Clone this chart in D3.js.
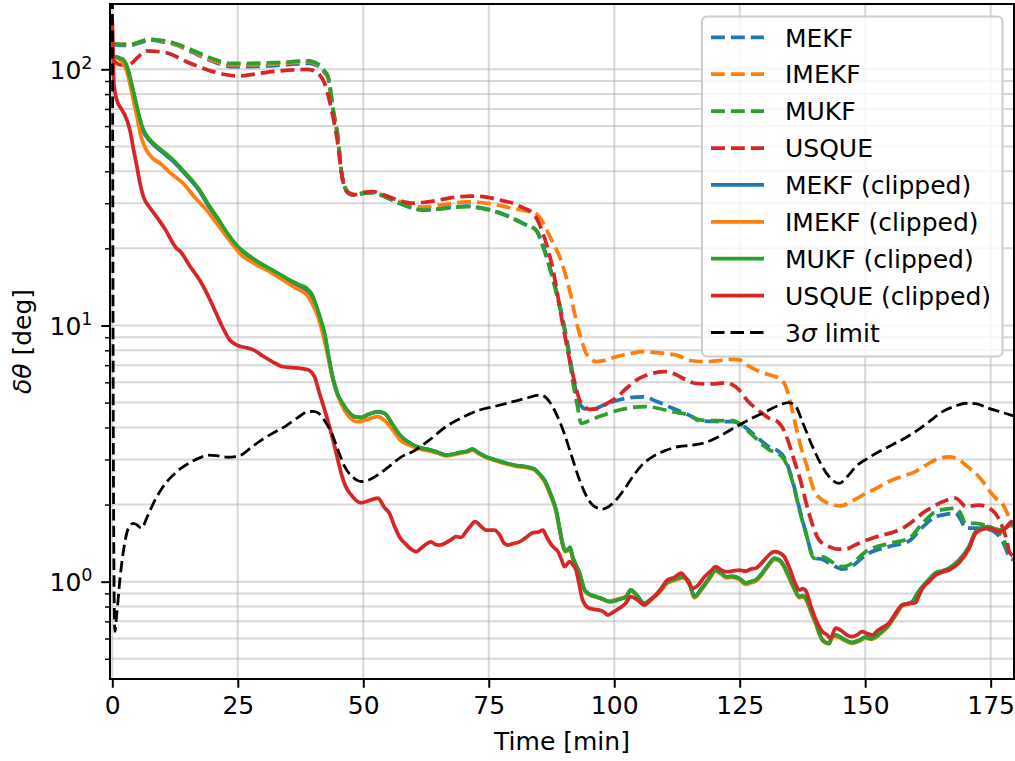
<!DOCTYPE html>
<html>
<head>
<meta charset="utf-8">
<script src="https://cdn.jsdelivr.net/npm/d3@7"></script>
<style>
  body { margin: 0; background: #fff; }
  svg { display: block; }
  text { font-family: "DejaVu Sans", sans-serif; fill: #000; }
</style>
</head>
<body>
<svg id="chart" width="1015" height="761"></svg>
<script>
// ---- axis ticks ----
const timeTicks = [0, 25, 50, 75, 100, 125, 150, 175];
const errMajor = [1, 10, 100];
const errMajorExp = ["0", "1", "2"];
const errMinor = [0.5, 0.6, 0.7, 0.8, 0.9, 2, 3, 4, 5, 6, 7, 8, 9, 20, 30, 40, 50, 60, 70, 80, 90];

// ---- attitude error, unclipped filters [time min, error deg] ----
const mekf = [[0,125],[0.2,125],[1.5,124],[3.5,124],[5.5,127],[7.5,130],[10,128],[12.1,125.5],[15,119],[17.4,113],[20,107.5],[23.4,102.5],[27.4,102.5],[31,103],[34,104],[37,105],[39.3,105.5],[40.5,104],[41.3,102],[42.2,97.5],[43,92.5],[44,69],[45,53],[45.6,40.4],[46.6,33.8],[47.5,32.5],[48.3,32.2],[50,32.8],[51.9,33],[54,32],[57.2,30],[61.9,28.3],[66,28.7],[70.5,29.2],[74.5,28.5],[77.5,27.4],[80.4,25.9],[82.5,24.7],[84.4,23.6],[85.8,20.5],[87.8,15.3],[89.4,11.4],[90.7,8.5],[91.7,6.5],[92.5,5.4],[93.1,4.95],[94.3,4.72],[95.7,4.7],[97.5,4.85],[99.7,5.04],[102.5,5.2],[105.6,5.27],[108.5,5.05],[111.6,4.75],[114.9,4.47],[117,4.25],[120,4.22],[123.6,4.21],[124.9,4.15],[126.5,3.95],[128.2,3.7],[130.9,3.35],[132.5,3.25],[133.9,3.05],[135.6,2.45],[136.9,1.93],[138.2,1.55],[139.8,1.24],[141.5,1.22],[143.5,1.16],[145.4,1.12],[147.4,1.15],[150.1,1.27],[154.7,1.37],[158.7,1.44],[161.4,1.63],[164,1.79],[166,1.83],[168,1.85],[169,1.75],[170,1.62],[172,1.62],[174.6,1.6],[177.3,1.45],[179,1.23],[179.7,1.22]];

const imekf = [[0,126],[0.2,126],[1.5,125],[3.5,125],[5.5,128],[7.5,131],[10,129],[12.1,126],[15,120],[17.4,114],[20,108.5],[23.4,104],[27.4,104],[31,104.5],[34,105.5],[37,106.5],[39.3,107],[40.5,105],[41.3,103],[42.2,98.5],[43,93],[44,69.4],[45,53],[45.6,40.4],[46.6,33.8],[47.5,32.7],[48.3,32.5],[50,33],[51.9,33.2],[54,32.3],[57.2,30.5],[61.9,29],[66,29.6],[70.5,30.4],[74.5,30],[77.5,29.3],[80.4,28.5],[82.5,28],[84.4,27.3],[85.5,25.8],[86.4,23.9],[87.8,21],[89.1,18.6],[91.1,13.76],[92.7,9.9],[93.6,8.6],[94.4,7.79],[95.4,7.4],[96.4,7.22],[98,7.3],[100.3,7.54],[103,7.75],[105.6,7.9],[108,7.85],[110.3,7.76],[113,7.6],[115,7.3],[118.3,7.22],[121,7.3],[123.6,7.39],[124.9,7.34],[126.5,7.0],[128.2,6.71],[130.5,6.45],[132.8,6.22],[134.2,5.77],[135,5.1],[136.2,4.03],[137.2,3.35],[138.2,2.9],[139.8,2.28],[141.5,2.08],[143.5,2.0],[145.1,1.975],[147.5,2.07],[150.1,2.21],[152.5,2.33],[154.7,2.46],[157.5,2.58],[160,2.69],[162,2.84],[164,2.99],[166.7,3.07],[168.7,2.99],[170.5,2.8],[172,2.65],[173.5,2.45],[174.6,2.28],[176,2.12],[177.3,2.02],[178.3,1.85],[179,1.69],[179.7,1.62]];

const mukf = [[0,126],[0.2,126],[1.5,125],[3.5,125],[5.5,128],[7.5,131],[10,129.5],[12.1,127],[15,121],[17.4,115.5],[20,110],[23.4,105.5],[27.4,105.5],[31,106],[34,106.5],[37,107.5],[39.3,107.8],[40.5,106],[41.3,104],[42.2,99],[43,93.5],[44,69.4],[45,53],[45.6,40.4],[46.6,33.8],[47.5,32.6],[48.3,32.3],[50,32.8],[51.9,33],[54,32],[57.2,30],[61.9,28.2],[66,28.6],[70.5,29.1],[74.5,28.4],[77.5,27.3],[80.4,25.8],[82.5,24.6],[84.4,23.6],[85.8,20.3],[87.8,15.05],[89.4,11.16],[90.7,8.27],[91.7,6.13],[92.7,4.82],[93.4,4.15],[95,4.25],[97,4.41],[101,4.68],[106.3,4.82],[111.6,4.61],[114.9,4.47],[117,4.28],[120,4.25],[123.6,4.25],[124.9,4.15],[126.5,3.9],[128.2,3.63],[130.9,3.27],[132.5,3.17],[133.9,2.99],[135.6,2.42],[136.9,1.905],[138.2,1.545],[139.8,1.234],[141.5,1.25],[143.5,1.19],[145.4,1.144],[147.4,1.18],[150.1,1.31],[154.7,1.41],[158.7,1.477],[161.4,1.69],[164,1.876],[166,1.92],[168,1.934],[169,1.85],[170,1.69],[172,1.69],[174.6,1.64],[177.3,1.5],[179,1.25],[179.7,1.22]];

const usque = [[0,108],[0.5,107],[1.5,104],[3.2,104],[5,111],[6.8,118],[8.5,117.5],[10.8,116],[12.8,112],[14.8,107],[17.5,102],[20.1,97.9],[23,95],[25.4,94.2],[28,95.5],[31,97.5],[34,98.7],[36.5,99.5],[38.7,100],[40,99],[41,96.5],[42.3,88.2],[43.3,75],[44.2,62],[45,50],[45.6,40],[46.6,33.5],[47.5,32.5],[48.3,32.4],[50,33],[51.9,33.3],[54,32.4],[57,30.8],[59.9,30],[62.5,30.3],[65.2,30.9],[68,31.6],[71.2,32],[74.5,31.7],[77.1,30.9],[79.8,30],[82,28.7],[83.8,27.4],[84.8,25.6],[85.8,22.9],[87.8,16.5],[89.7,10.2],[91.4,6.9],[92.4,5.7],[93.1,5.12],[94,4.85],[95,4.71],[97,4.75],[98.5,4.95],[100.3,5.2],[102.5,5.7],[105,6.22],[107.5,6.5],[110.3,6.6],[112.5,6.4],[114.3,6.13],[116,5.95],[118.3,5.91],[120.5,5.93],[122.3,5.98],[123.6,5.86],[124.9,5.6],[126.5,5.1],[128.2,4.75],[129.5,4.54],[130.9,4.34],[132.5,4.22],[133.5,4.0],[134.8,3.47],[135.8,3.0],[136.9,2.57],[138.8,1.85],[140.8,1.455],[142.8,1.37],[144.5,1.34],[146.1,1.34],[148,1.39],[149.4,1.43],[151.5,1.48],[153.4,1.52],[156,1.57],[158,1.64],[159.8,1.74],[161.4,1.85],[163.5,1.96],[165.4,2.05],[168,2.12],[169,2.05],[170,1.96],[172.6,1.99],[175.3,1.9],[176.5,1.78],[177.3,1.64],[178.2,1.45],[178.7,1.31],[179.7,1.25]];

// ---- attitude error, clipped filters ----
const mekfClipped = [[0,112],[0.5,112],[1.5,110.5],[2.2,108.5],[2.9,102],[3.5,92.5],[4.2,81],[4.9,70.5],[5.5,63],[6.2,57.2],[7.2,53.3],[8.2,50.8],[10,47.4],[12.1,43.8],[14.5,39],[17.4,33.4],[19,29.6],[20.8,26.3],[23,22.5],[25.4,19.8],[26.1,19.3],[28.5,17.8],[30.7,16.8],[33,15.8],[35.3,14.85],[37,14.3],[38.7,13.75],[39.8,13.0],[40.7,11.65],[41.5,10.45],[42.3,9.2],[43.1,7.5],[43.9,6.25],[44.9,5.35],[45.9,4.93],[47,4.6],[48.3,4.4],[49.6,4.37],[51,4.49],[52.9,4.6],[54.3,4.53],[55.9,4.08],[57.5,3.69],[59.4,3.46],[61,3.35],[63.2,3.27],[64.8,3.2],[66.5,3.12],[68,3.15],[69.2,3.19],[70.5,3.22],[71.8,3.29],[73,3.18],[74.5,3.07],[76.5,2.98],[78.5,2.9],[80.5,2.84],[82.4,2.81],[84.1,2.75],[85.2,2.62],[86.1,2.49],[87.3,2.2],[88.4,1.905],[89.1,1.62],[89.7,1.41],[90.2,1.32],[90.7,1.33],[91.2,1.36],[91.7,1.25],[92.4,1.16],[93.1,1.08],[94.1,0.928],[95.2,0.89],[96.4,0.874],[97.7,0.855],[99,0.835],[101,0.854],[102.3,0.87],[103.3,0.928],[104.2,0.9],[106,0.823],[107.2,0.85],[108.3,0.887],[109.5,0.94],[110.3,0.986],[111.6,1.015],[112.5,1.03],[113.6,1.045],[114.9,1.0],[116,0.874],[117.2,0.93],[118.9,1.03],[120.2,1.11],[121.3,1.08],[122.3,1.045],[123.5,1.05],[124.9,1.03],[126.2,0.986],[127.2,1.0],[128.2,1.015],[129.5,1.08],[130.8,1.17],[131.9,1.234],[132.8,1.22],[133.5,1.18],[134.5,1.08],[135.8,0.95],[136.9,0.874],[137.6,0.88],[138.2,0.86],[139.2,0.77],[140.2,0.688],[141.5,0.592],[142.8,0.575],[143.4,0.61],[144.1,0.619],[145.5,0.6],[147.4,0.578],[148.8,0.59],[150.1,0.607],[151.2,0.6],[152.1,0.61],[153.4,0.64],[154.7,0.678],[156,0.74],[157.4,0.811],[158.4,0.82],[159.4,0.835],[160.4,0.9],[161.4,0.956],[162.7,1.02],[164,1.08],[165.3,1.1],[166.7,1.128],[168.7,1.215],[170.7,1.37],[172,1.567],[173.3,1.62],[174.6,1.64],[176,1.6],[177.3,1.59],[178.3,1.64],[179.7,1.69]];

const imekfClipped = [[0,111],[0.5,111],[1.5,109],[2.2,105],[2.9,98],[3.5,88],[4.2,76],[4.9,65.3],[5.8,54],[6.8,48.4],[8,45],[9.5,43],[11.5,39.5],[14.1,35.9],[16.5,31.5],[18.8,28.2],[21.5,24],[24.1,20.6],[25.4,19.1],[28,17.6],[30.7,16.5],[33.5,15.3],[36,14.2],[37.5,13.7],[38.7,13.2],[39.8,12.2],[41,10.8],[41.8,9.5],[42.7,8.03],[43.6,6.6],[44.6,5.6],[45.6,4.95],[47,4.45],[48.9,4.21],[50.5,4.28],[52.9,4.41],[54.3,4.25],[55.9,3.9],[57.5,3.55],[59.4,3.4],[61,3.3],[63.2,3.24],[64.8,3.17],[66.5,3.1],[68,3.13],[69.2,3.17],[70.5,3.2],[71.8,3.26],[73,3.16],[74.5,3.05],[76.5,2.96],[78.5,2.88],[80.5,2.82],[82.4,2.79],[84.1,2.73],[85.2,2.6],[86.1,2.46],[87.3,2.17],[88.4,1.88],[89.1,1.6],[89.7,1.4],[90.2,1.31],[90.7,1.32],[91.2,1.34],[91.7,1.24],[92.4,1.15],[93.1,1.07],[94.1,0.925],[95.2,0.885],[96.4,0.87],[97.7,0.855],[99,0.84],[101,0.858],[102.3,0.875],[103.3,0.92],[104.2,0.895],[106,0.818],[107.2,0.845],[108.3,0.88],[109.5,0.93],[110.3,0.975],[111.6,1.005],[112.5,1.02],[113.6,1.035],[114.9,0.99],[116,0.865],[117.2,0.92],[118.9,1.02],[120.2,1.1],[121.3,1.07],[122.3,1.035],[123.5,1.04],[124.9,1.02],[126.2,0.975],[127.2,0.99],[128.2,1.005],[129.5,1.07],[130.8,1.16],[131.9,1.22],[132.8,1.21],[133.5,1.17],[134.5,1.07],[135.8,0.94],[136.9,0.865],[137.6,0.87],[138.2,0.85],[139.2,0.76],[140.2,0.68],[141.5,0.588],[142.8,0.572],[143.4,0.605],[144.1,0.612],[145.5,0.595],[147.4,0.575],[148.8,0.586],[150.1,0.602],[151.2,0.596],[152.1,0.605],[153.4,0.635],[154.7,0.672],[156,0.735],[157.4,0.805],[158.4,0.815],[159.4,0.83],[160.4,0.893],[161.4,0.95],[162.7,1.015],[164,1.07],[165.3,1.09],[166.7,1.12],[168.7,1.205],[170.7,1.36],[172,1.555],[173.3,1.61],[174.6,1.635],[176,1.6],[177.3,1.59],[178.3,1.64],[179.7,1.69]];

const mukfClipped = [[0,112],[0.5,112],[1.5,110.5],[2.2,109],[2.9,103],[3.5,93.5],[4.2,82],[4.9,71.5],[5.5,64],[6.2,58],[7.2,54],[8.2,51.4],[10,48],[12.1,44.3],[14.5,39.5],[17.4,33.8],[19,30],[20.8,26.6],[23,22.8],[25.4,20],[26.1,19.5],[28.5,18],[30.7,16.96],[33,16],[35.3,15.05],[37,14.5],[38.7,13.97],[39.8,13.2],[40.7,11.84],[41.5,10.6],[42.3,9.32],[43.1,7.6],[43.9,6.31],[44.9,5.4],[45.9,4.97],[47,4.62],[48.3,4.41],[49.6,4.38],[51,4.5],[52.9,4.61],[54.3,4.54],[55.9,4.09],[57.5,3.7],[59.4,3.47],[61,3.35],[63.2,3.27],[64.8,3.2],[66.5,3.12],[68,3.15],[69.2,3.19],[70.5,3.22],[71.8,3.29],[73,3.18],[74.5,3.07],[76.5,2.98],[78.5,2.9],[80.5,2.84],[82.4,2.81],[84.1,2.75],[85.2,2.62],[86.1,2.49],[87.3,2.2],[88.4,1.905],[89.1,1.62],[89.7,1.41],[90.2,1.32],[90.7,1.33],[91.2,1.36],[91.7,1.25],[92.4,1.16],[93.1,1.08],[94.1,0.928],[95.2,0.89],[96.4,0.874],[97.7,0.855],[99,0.835],[101,0.854],[102.3,0.87],[103.3,0.928],[104.2,0.9],[106,0.823],[107.2,0.85],[108.3,0.887],[109.5,0.94],[110.3,0.986],[111.6,1.015],[112.5,1.03],[113.6,1.045],[114.9,1.0],[116,0.874],[117.2,0.93],[118.9,1.03],[120.2,1.11],[121.3,1.08],[122.3,1.045],[123.5,1.05],[124.9,1.03],[126.2,0.986],[127.2,1.0],[128.2,1.015],[129.5,1.08],[130.8,1.17],[131.9,1.234],[132.8,1.22],[133.5,1.18],[134.5,1.08],[135.8,0.95],[136.9,0.874],[137.6,0.88],[138.2,0.86],[139.2,0.77],[140.2,0.688],[141.5,0.592],[142.8,0.575],[143.4,0.61],[144.1,0.619],[145.5,0.6],[147.4,0.578],[148.8,0.59],[150.1,0.607],[151.2,0.6],[152.1,0.61],[153.4,0.64],[154.7,0.678],[156,0.74],[157.4,0.811],[158.4,0.82],[159.4,0.835],[160.4,0.9],[161.4,0.956],[162.7,1.02],[164,1.08],[165.3,1.1],[166.7,1.128],[168.7,1.215],[170.7,1.37],[172,1.567],[173.3,1.62],[174.6,1.64],[176,1.6],[177.3,1.59],[178.3,1.64],[179.7,1.69]];

const usqueClipped = [[0,153],[0.15,120],[0.3,88.2],[0.9,75.9],[1.8,70],[2.5,66.3],[3.5,58],[4.2,49],[4.9,41.7],[5.5,36],[6.2,31.8],[7.5,28.8],[8.8,26.6],[10.5,23.8],[12.8,20],[13.5,19.5],[15.5,17],[17.4,15.05],[18.8,13.4],[20.1,11.84],[21.8,10],[23.4,8.78],[25,8.35],[26.5,8.2],[28.1,8.03],[30,7.6],[32,7.2],[34,6.9],[36,6.85],[38.7,6.74],[39.6,6.6],[40.3,6.31],[41.2,5.5],[42.7,4.41],[44.3,3.37],[45.6,2.65],[46.5,2.35],[47.6,2.18],[48.5,2.08],[49.6,2.03],[51,2.07],[52.9,2.12],[54.2,1.95],[55.2,1.85],[56.2,1.65],[57.2,1.498],[58.5,1.4],[59.5,1.34],[60.5,1.31],[61.5,1.35],[62.5,1.4],[63.5,1.43],[64.3,1.4],[65.2,1.39],[66.5,1.42],[67.5,1.46],[68.5,1.498],[69.5,1.49],[70.5,1.57],[71.5,1.66],[72.2,1.715],[73,1.68],[73.8,1.62],[74.5,1.59],[76.1,1.59],[77.2,1.52],[78.1,1.41],[78.8,1.39],[80,1.41],[81.1,1.43],[82.5,1.49],[83.8,1.553],[84.8,1.56],[85.8,1.59],[86.5,1.5],[87.2,1.42],[87.8,1.37],[88.8,1.31],[89.5,1.22],[90.1,1.144],[91.1,1.197],[91.8,1.16],[92.4,1.11],[93,0.98],[93.7,0.848],[95,0.787],[96,0.78],[97,0.775],[98,0.76],[98.7,0.741],[99.8,0.76],[101,0.787],[102.2,0.82],[103.3,0.874],[104.6,0.85],[106,0.811],[107.2,0.85],[108.3,0.887],[109.5,0.95],[110.6,1.015],[112,1.04],[113.3,1.08],[114.3,1.03],[115.6,0.942],[116.5,0.96],[118,1.045],[119.2,1.1],[120.2,1.144],[121.3,1.11],[122.3,1.094],[123.5,1.1],[124.9,1.11],[126.2,1.1],[127.2,1.12],[128.2,1.128],[129.5,1.19],[130.8,1.27],[131.9,1.31],[132.8,1.3],[133.9,1.25],[135,1.12],[136.1,0.98],[136.9,0.928],[137.6,0.94],[138.2,0.92],[139.2,0.8],[140.2,0.709],[141.5,0.638],[142.4,0.62],[143.1,0.601],[144.1,0.658],[145.2,0.645],[146.3,0.62],[147.4,0.61],[148.4,0.62],[149.4,0.638],[150.4,0.627],[151.4,0.619],[152.5,0.645],[153.6,0.665],[154.7,0.688],[156,0.75],[157.4,0.811],[158.5,0.82],[160,0.828],[160.7,0.88],[161.4,0.94],[162.7,1.0],[164,1.06],[165.3,1.09],[166.7,1.11],[168.7,1.186],[170.7,1.35],[172,1.545],[173.3,1.6],[174.6,1.615],[175.8,1.59],[176.7,1.567],[178,1.62],[179.2,1.715],[179.7,1.7]];

// ---- 3-sigma bound ----
const sigmaLimit = [[0,400],[0.25,2],[0.5,0.64],[0.9,0.75],[1.5,1.015],[2.3,1.35],[3.2,1.616],[4.2,1.69],[5,1.66],[5.8,1.616],[7,1.8],[8.5,2.08],[10,2.33],[11.8,2.57],[13.8,2.78],[15.8,2.94],[17.5,3.05],[19.1,3.12],[21,3.1],[23.1,3.06],[24.5,3.08],[25.7,3.12],[27.5,3.32],[29.7,3.57],[32,3.8],[34.4,4.03],[36.8,4.35],[39,4.61],[40,4.62],[41,4.56],[42.3,4.25],[43.7,3.8],[45,3.25],[46.3,2.81],[48,2.55],[49.6,2.46],[51.2,2.5],[52.9,2.61],[55,2.8],[57.6,3.07],[59.9,3.22],[63,3.55],[66.5,4.03],[70,4.4],[73.2,4.68],[76.5,4.85],[79.8,5.04],[82.5,5.2],[85.1,5.35],[86,5.3],[87.1,5.04],[88.5,4.5],[89.8,3.91],[91.5,3.1],[93.1,2.49],[94.5,2.15],[95.7,1.99],[97.7,1.92],[99.7,2.02],[101.7,2.25],[103.7,2.57],[105.5,2.85],[107.6,3.07],[110,3.24],[113,3.37],[115,3.4],[118.3,3.5],[121,3.7],[124.9,4.09],[127.5,4.35],[130.2,4.61],[132.5,4.85],[134.8,5.0],[136.2,4.82],[137.5,4.2],[139.5,3.37],[141.3,2.85],[142.8,2.57],[144.8,2.42],[146.5,2.58],[148.1,2.81],[150.5,3.03],[153.4,3.27],[157,3.55],[160,3.85],[163,4.25],[165.4,4.61],[168,4.85],[170,4.97],[172,4.95],[174.6,4.75],[177,4.6],[179,4.47],[179.7,4.43]];

const legendLabels = ["MEKF", "IMEKF", "MUKF", "USQUE", "MEKF (clipped)", "IMEKF (clipped)", "MUKF (clipped)", "USQUE (clipped)", "3σ limit"];

// ---- layout ----
const plot = { left: 110, right: 1014, top: 4, bottom: 679 };
const FONT = 25;
const svg = d3.select("#chart");

const x = d3.scaleLinear().domain([-0.46, 179.65]).range([plot.left, plot.right]);
const y = d3.scaleLog().domain([0.417, 179.8]).range([plot.bottom, plot.top]);

svg.append("defs").append("clipPath").attr("id", "plotArea")
  .append("rect").attr("x", plot.left).attr("y", plot.top)
  .attr("width", plot.right - plot.left).attr("height", plot.bottom - plot.top);

// grid (major + minor)
const grid = svg.append("g").attr("stroke", "#b0b0b0").attr("stroke-opacity", 0.5).attr("stroke-width", 2);
grid.selectAll("line.gx").data(timeTicks).join("line")
  .attr("x1", d => x(d)).attr("x2", d => x(d)).attr("y1", plot.top).attr("y2", plot.bottom);
grid.selectAll("line.gy").data(errMajor.concat(errMinor)).join("line")
  .attr("x1", plot.left).attr("x2", plot.right).attr("y1", d => y(d)).attr("y2", d => y(d));

// series styling
const C = { blue: "#1f77b4", orange: "#ff7f0e", green: "#2ca02c", red: "#d62728", black: "#000000" };
const DASH = "13.9,6";
const series = [
  { data: mekf, color: C.blue, dash: DASH, w: 3.75 },
  { data: imekf, color: C.orange, dash: DASH, w: 3.75 },
  { data: mukf, color: C.green, dash: DASH, w: 3.75 },
  { data: usque, color: C.red, dash: DASH, w: 3.75 },
  { data: mekfClipped, color: C.blue, dash: null, w: 3.75 },
  { data: imekfClipped, color: C.orange, dash: null, w: 3.75 },
  { data: mukfClipped, color: C.green, dash: null, w: 3.75 },
  { data: usqueClipped, color: C.red, dash: null, w: 3.75 },
  { data: sigmaLimit, color: C.black, dash: "11.5,5", w: 2.8 }
];

const line = d3.line().x(d => x(d[0])).y(d => y(d[1])).curve(d3.curveMonotoneX);
const lines = svg.append("g").attr("clip-path", "url(#plotArea)");
series.forEach(s => {
  lines.append("path").attr("d", line(s.data))
    .attr("fill", "none").attr("stroke", s.color).attr("stroke-width", s.w)
    .attr("stroke-linejoin", "round").attr("stroke-linecap", s.dash ? "butt" : "square")
    .attr("stroke-dasharray", s.dash);
});

// axes
const xAxis = d3.axisBottom(x).tickValues(timeTicks).tickFormat(d3.format("d"))
  .tickSizeInner(8.75).tickSizeOuter(0).tickPadding(8.75);
const gx = svg.append("g").attr("transform", `translate(0,${plot.bottom})`).call(xAxis);
gx.select(".domain").remove();
gx.selectAll(".tick line").attr("stroke", "#000").attr("stroke-width", 2);
gx.selectAll(".tick text").attr("font-size", FONT).attr("font-family", "DejaVu Sans").attr("fill", "#000");

const yAxis = d3.axisLeft(y).tickValues(errMajor).tickSizeInner(8.75).tickSizeOuter(0).tickPadding(8.75);
const gy = svg.append("g").attr("transform", `translate(${plot.left},0)`).call(yAxis);
gy.select(".domain").remove();
gy.selectAll(".tick line").attr("stroke", "#000").attr("stroke-width", 2);
gy.selectAll(".tick text").each(function (d, i) {
  const t = d3.select(this).text(null)
    .attr("font-size", FONT).attr("font-family", "DejaVu Sans").attr("fill", "#000").attr("dy", "0.37em");
  t.append("tspan").text("10");
  t.append("tspan").attr("dy", -10.5).attr("font-size", 17.5).text(errMajorExp[i]);
});

const yMinorAxis = d3.axisLeft(y).tickValues(errMinor).tickFormat("").tickSizeInner(5).tickSizeOuter(0);
const gym = svg.append("g").attr("transform", `translate(${plot.left},0)`).call(yMinorAxis);
gym.select(".domain").remove();
gym.selectAll(".tick line").attr("stroke", "#000").attr("stroke-width", 1.5);

// spines
svg.append("rect").attr("x", plot.left).attr("y", plot.top)
  .attr("width", plot.right - plot.left).attr("height", plot.bottom - plot.top)
  .attr("fill", "none").attr("stroke", "#000").attr("stroke-width", 2);

// axis titles
svg.append("text").attr("x", (plot.left + plot.right) / 2).attr("y", 750)
  .attr("text-anchor", "middle").attr("font-size", FONT).text("Time [min]");
const yl = svg.append("text").attr("transform", `translate(31,${(plot.top + plot.bottom) / 2}) rotate(-90)`)
  .attr("text-anchor", "middle").attr("font-size", FONT);
yl.append("tspan").attr("font-style", "italic").text("δθ");
yl.append("tspan").text(" [deg]");

// legend
const lg = svg.append("g");
lg.append("rect").attr("x", 702).attr("y", 16.5).attr("width", 300.5).attr("height", 340)
  .attr("rx", 5).attr("fill", "#fff").attr("fill-opacity", 0.8)
  .attr("stroke", "#cccccc").attr("stroke-width", 2);
const rowY = i => 37.3 + i * 36.9;
series.forEach((s, i) => {
  lg.append("line").attr("x1", 711).attr("x2", 764).attr("y1", rowY(i)).attr("y2", rowY(i))
    .attr("stroke", s.color).attr("stroke-width", s.w)
    .attr("stroke-dasharray", s.dash ? (i === 8 ? "13.5,6" : DASH) : null);
  const t = lg.append("text").attr("x", 785).attr("y", rowY(i) + 9.2).attr("font-size", FONT);
  const label = legendLabels[i];
  if (label.includes("σ")) {
    t.append("tspan").text("3");
    t.append("tspan").attr("font-style", "italic").text("σ");
    t.append("tspan").text(" limit");
  } else {
    t.text(label);
  }
});
</script>
</body>
</html>
